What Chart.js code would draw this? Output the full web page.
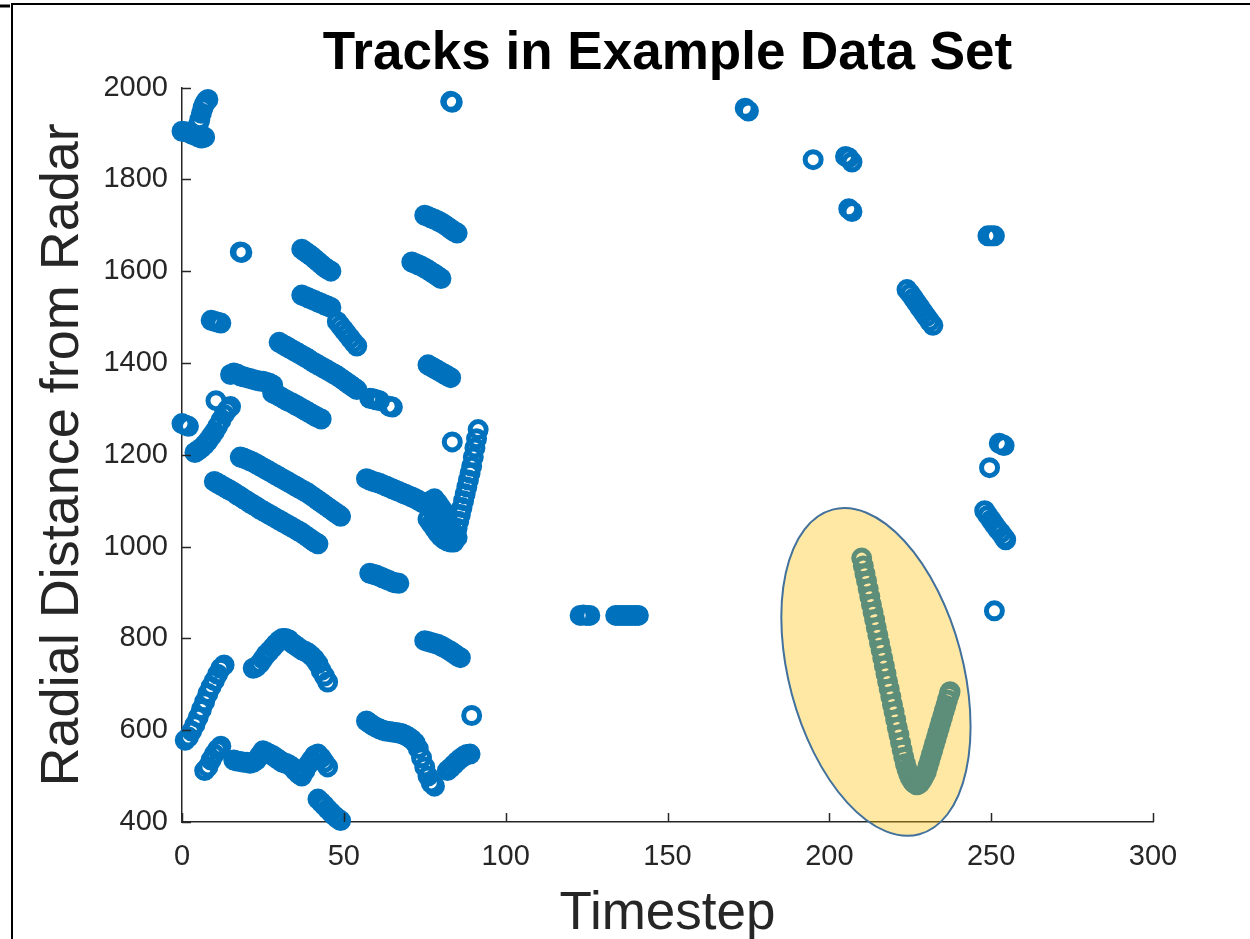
<!DOCTYPE html>
<html><head><meta charset="utf-8">
<script src="https://cdn.jsdelivr.net/npm/chart.js@4.4.1/dist/chart.umd.min.js"></script>
<style>html,body{margin:0;padding:0;background:#fff;}#wrap{width:1250px;height:939px;}canvas{display:block;}</style>
</head><body><div id="wrap"><canvas id="c" width="1250" height="939"></canvas></div>
<script>
// ---------- tick labels ----------
const xTicks = [0, 50, 100, 150, 200, 250, 300];
const yTicks = [400, 600, 800, 1000, 1200, 1400, 1600, 1800, 2000];

// ---------- tracks: [timestep, radial distance] ----------
const trackTopLeftLow = [[0,1905],[1,1904],[2,1902],[3,1899],[4,1896],[5,1893],[6,1890],[7,1892]];
const trackTopLeftHigh = [[5,1918],[5.5,1930],[6,1944],[6.5,1956],[7,1965],[7.5,1971],[8,1974]];
const track1970 = [[83,1970],[83.5,1968]];
const track1640 = [[18,1642],[18.5,1641]];
const track1645 = [[37,1648],[38,1643],[39,1638],[40,1633],[41,1627],[42,1621],[43,1615],[44,1609],[45,1604],[46,1600]];
const track1545 = [[37,1548],[38,1545],[39,1542],[40,1539],[41,1536],[42,1533],[43,1530],[44,1527],[45,1524],[46,1521]];
const track1490 = [[48,1490],[49,1481],[50,1472],[51,1463],[52,1454],[53,1445],[54,1437]];
const track1490b = [[9,1493],[10,1491],[11,1489],[12,1487]];
const track1720 = [[75,1722],[76,1719],[77,1716],[78,1713],[79,1710],[80,1706],[81,1702],[82,1697],[83,1692],[84,1687],[85,1683]];
const track1615 = [[71,1620],[72,1617],[73,1614],[74,1611],[75,1607],[76,1603],[77,1598],[78,1594],[79,1589],[80,1584]];
const track1445 = [[30,1445],[31,1441],[32,1437],[33,1433],[34,1429],[35,1425],[36,1421],[37,1417],[38,1413],[39,1409],[40,1404],[41,1400],[42,1396],[43,1392],[44,1388],[45,1384],[46,1380],[47,1376],[48,1372],[49,1367],[50,1362],[51,1357],[52,1352],[53,1347],[54,1342]];
const track1390 = [[76,1396],[77,1392],[78,1388],[79,1384],[80,1380],[81,1376],[82,1372],[83,1368]];
const track1375 = [[15,1375],[16,1378],[17,1376],[18,1372],[19,1370],[20,1368],[21,1366],[22,1364],[23,1362],[24,1361],[25,1360],[26,1358],[27,1356],[28,1352]];
const track1335 = [[28,1335],[29,1332],[30,1328],[31,1324],[32,1320],[33,1316],[34,1313],[35,1309],[36,1305],[37,1301],[38,1297],[39,1293],[40,1289],[41,1285],[42,1281],[43,1278]];
const track1320 = [[58,1323],[59,1322],[60,1320],[61,1318],[64,1306],[65,1304]];
const track1265 = [[0,1268],[1,1265],[2,1262]];
const track1210 = [[4,1205],[5,1210],[6,1215],[7,1222],[8,1230],[9,1240],[10,1250],[11,1262],[12,1275],[13,1288],[14,1298],[15,1305],[10.5,1318]];
const track1195 = [[18,1195],[19,1193],[20,1190],[21,1187],[22,1184],[23,1180],[24,1176],[25,1172],[26,1168],[27,1164],[28,1160],[29,1156],[30,1152],[31,1148],[32,1144],[33,1140],[34,1136],[35,1132],[36,1128],[37,1124],[38,1120],[39,1116],[40,1111],[41,1106],[42,1101],[43,1096],[44,1091],[45,1086],[46,1081],[47,1076],[48,1071],[49,1066]];
const track1140 = [[10,1142],[11,1138],[12,1134],[13,1130],[14,1126],[15,1122],[16,1118],[17,1113],[18,1109],[19,1104],[20,1100],[21,1095],[22,1091],[23,1087],[24,1082],[25,1078],[26,1074],[27,1070],[28,1066],[29,1062],[30,1058],[31,1054],[32,1050],[33,1046],[34,1042],[35,1038],[36,1034],[37,1030],[38,1025],[39,1020],[40,1015],[41,1010],[42,1006]];
const trackVLeft = [[57,1148],[58,1145],[59,1142],[60,1140],[61,1138],[62,1135],[63,1132],[64,1129],[65,1126],[66,1123],[67,1120],[68,1117],[69,1114],[70,1111],[71,1108],[72,1105],[73,1101],[74,1097],[75,1093],[76,1089],[77,1085],[78,1080],[79,1072],[80,1062],[81,1050],[82,1040],[83,1032],[84,1025],[85,1020]];
const trackVBlob = [[76,1060],[77,1050],[78,1040],[79,1030],[80,1022],[81,1016],[82,1012],[83,1010],[77,1100],[78,1104],[79,1095],[80,1085],[81,1075],[82,1060],[83,1045],[80,1040],[81,1030],[82,1025],[78,1065],[79,1055]];
const trackVRight = [[84,1010],[84.5,1025],[85,1040],[85.5,1055],[86,1070],[86.5,1085],[87,1100],[87.5,1115],[88,1130],[88.5,1145],[89,1160],[89.5,1175],[90,1195],[90.5,1215],[91,1235],[91.5,1255]];
const track1228 = [[83.5,1228]];
const track940 = [[58,942],[59,940],[60,938],[61,935],[62,932],[63,929],[64,926],[65,923],[66,921],[67,920]];
const track580 = [[1,578],[2,585],[3,598],[4,612],[5,628],[6,645],[7,662],[8,680],[9,695],[10,708],[11,722],[12,735],[13,742]];
const track515 = [[7,512],[8,520],[9,535],[10,548],[11,558],[12,565]];
const track530 = [[16,535],[17,533],[18,532],[19,530],[20,530],[21,528],[22,530],[23,535],[24,545],[25,555],[26,552],[27,548],[28,545],[29,540],[30,535],[31,530],[32,528],[33,525],[34,520],[35,512],[36,505],[37,500],[38,512],[39,525],[40,535],[41,545],[42,548],[43,540],[44,530],[45,520]];
const track800 = [[22,735],[23,738],[24,745],[25,755],[26,765],[27,772],[28,780],[29,788],[30,795],[31,800],[32,800],[33,797],[34,790],[35,785],[36,780],[37,775],[38,772],[39,768],[40,762],[41,755],[42,745],[43,730],[44,718],[45,705]];
const track440 = [[42,450],[43,443],[44,436],[45,428],[46,421],[47,414],[48,408],[49,403]];
const track620 = [[57,620],[58,615],[59,610],[60,606],[61,603],[62,600],[63,598],[64,597],[65,596],[66,595],[67,594],[68,592],[69,589],[70,585],[71,580],[72,573],[73,560],[74,540],[75,520],[76,500],[77,485],[78,478]];
const track790 = [[75,795],[76,793],[77,791],[78,789],[79,787],[80,784],[81,780],[82,776],[83,772],[84,767],[85,762],[86,758]];
const track630 = [[89.5,632]];
const track512 = [[82,512],[83,518],[84,525],[85,532],[86,538],[87,543],[88,547],[89,548]];
const track850a = [[123,850],[124,851],[125,850],[126,850]];
const track850b = [[134,850],[135,850],[136,850],[137,850],[138,850],[139,850],[140,850],[141,850]];
const track1950 = [[174,1955],[175,1949]];
const track1843 = [[195,1843]];
const track1850 = [[205,1850],[206,1847],[207,1838]];
const track1730 = [[206,1736],[207,1730]];
const track1677 = [[249,1677],[250,1677],[251,1677]];
const track1560 = [[224,1560],[225,1551],[226,1541],[227,1531],[228,1521],[229,1511],[230,1501],[231,1491],[232,1482]];
const track1222 = [[252.5,1225],[253.5,1222],[254,1220]];
const track1172 = [[249.5,1172]];
const track1075 = [[248,1078],[249,1068],[250,1058],[251,1048],[252,1038],[253,1030],[254,1020],[254.5,1015]];
const track860 = [[251,860]];
// the highlighted V-shaped track
const trackHighlight = [[210,975],[210.5,958],[211,941],[211.5,925],[212,908],[212.5,891],[213,874],[213.5,857],[214,841],[214.5,824],[215,807],[215.5,790],[216,774],[216.5,757],[217,740],[217.5,723],[218,706],[218.5,690],[219,673],[219.5,656],[220,640],[220.5,623],[221,606],[221.5,590],[222,573],[222.5,557],[223,541],[223.5,527],[224,515],[224.5,505],[225,497],[225.5,491],[226,486],[226.5,483],[227,481],[227.5,482],[228,485],[228.5,490],[229,496],[229.5,503],[230,510],[230.5,522],[231,534],[231.5,546],[232,558],[232.5,570],[233,582],[233.5,594],[234,606],[234.5,618],[235,630],[235.5,642],[236,654],[236.5,666],[237,678],[237.3,684]];

const allTracks = [trackTopLeftLow,trackTopLeftHigh,track1970,track1640,track1645,track1545,track1490,track1490b,track1720,track1615,track1445,track1390,track1375,track1335,track1320,track1265,track1210,track1195,track1140,trackVLeft,trackVBlob,trackVRight,track1228,track940,track580,track515,track530,track800,track440,track620,track790,track630,track512,track850a,track850b,track1950,track1843,track1850,track1730,track1677,track1560,track1222,track1172,track1075,track860,trackHighlight];

// highlight ellipse (centre in data units)
const highlightCenter = {x: 214.4, y: 727};

const BLUE = '#0072BD';
const AXIS = '#262626';

const framePlugin = {
  id: 'frame',
  beforeDraw(chart) {
    const ctx = chart.ctx;
    ctx.save();
    ctx.strokeStyle = '#000';
    ctx.lineWidth = 2;
    ctx.beginPath();
    ctx.moveTo(12, 939); ctx.lineTo(12, 4); ctx.lineTo(1250, 4);
    ctx.stroke();
    ctx.lineWidth = 3;
    ctx.beginPath(); ctx.moveTo(0, 6); ctx.lineTo(10, 6); ctx.stroke();
    ctx.restore();
  }
};

const inwardTicks = {
  id: 'inwardTicks',
  afterDraw(chart) {
    const ctx = chart.ctx, xs = chart.scales.x, ys = chart.scales.y, a = chart.chartArea;
    ctx.save();
    ctx.strokeStyle = AXIS; ctx.lineWidth = 1.5;
    ctx.beginPath();
    xTicks.forEach(v => { const p = Math.round(xs.getPixelForValue(v)) + 0.5; ctx.moveTo(p, a.bottom); ctx.lineTo(p, a.bottom - 9); });
    yTicks.forEach(v => { const p = Math.round(ys.getPixelForValue(v)) + 0.5; ctx.moveTo(a.left, p); ctx.lineTo(a.left + 9, p); });
    ctx.stroke();
    ctx.restore();
  }
};

const ellipsePlugin = {
  id: 'highlightEllipse',
  afterDatasetsDraw(chart) {
    const ctx = chart.ctx;
    const cx = chart.scales.x.getPixelForValue(highlightCenter.x);
    const cy = chart.scales.y.getPixelForValue(highlightCenter.y);
    ctx.save();
    ctx.beginPath();
    ctx.ellipse(cx, cy, 87, 168, -15 * Math.PI / 180, 0, Math.PI * 2);
    ctx.fillStyle = 'rgba(255,192,0,0.36)';
    ctx.fill();
    ctx.strokeStyle = '#41719C';
    ctx.lineWidth = 2;
    ctx.stroke();
    ctx.restore();
  }
};

Chart.defaults.font.family = "'Liberation Sans', Arial, sans-serif";

new Chart(document.getElementById('c'), {
  type: 'scatter',
  data: {
    datasets: allTracks.map((t, i) => ({
      label: 'track ' + (i + 1),
      data: t.map(([x, y]) => ({x, y})),
      pointStyle: 'circle',
      pointRadius: 8,
      pointBorderWidth: 5,
      pointBackgroundColor: 'rgba(0,0,0,0)',
      pointBorderColor: BLUE,
      borderColor: BLUE,
      showLine: false,
      clip: false
    }))
  },
  options: {
    responsive: false,
    devicePixelRatio: 1,
    animation: false,
    events: [],
    layout: {padding: {top: 0, right: 97, bottom: 0, left: 0}},
    plugins: {
      legend: {display: false},
      tooltip: {enabled: false},
      title: {
        display: true,
        fullSize: false,
        text: 'Tracks in Example Data Set',
        color: '#000',
        font: {size: 53, weight: 'bold', lineHeight: 1.2},
        padding: {top: 23, bottom: 1}
      }
    },
    scales: {
      x: {
        type: 'linear', min: 0, max: 300,
        afterBuildTicks(s) { s.ticks = xTicks.map(v => ({value: v})); },
        afterFit(s) { s.height = 117; },
        grid: {display: false, drawTicks: false},
        border: {display: true, color: AXIS, width: 1.5},
        ticks: {color: AXIS, font: {size: 29}, padding: 18, maxRotation: 0, autoSkip: false, callback: v => String(v)},
        title: {display: true, text: 'Timestep', color: AXIS, font: {size: 53, lineHeight: 0.9}, padding: {top: 0, bottom: 1}}
      },
      y: {
        type: 'linear', min: 400, max: 2000,
        afterBuildTicks(s) { s.ticks = yTicks.map(v => ({value: v})); },
        afterFit(s) { s.width = 182; },
        grid: {display: false, drawTicks: false},
        border: {display: true, color: AXIS, width: 1.5},
        ticks: {color: AXIS, font: {size: 29}, padding: 14, autoSkip: false, callback: v => String(v)},
        title: {display: true, text: 'Radial Distance from Radar', color: AXIS, font: {size: 54, lineHeight: 1.2}, padding: {top: 31, bottom: 0}}
      }
    }
  },
  plugins: [framePlugin, inwardTicks, ellipsePlugin]
});
</script></body></html>
